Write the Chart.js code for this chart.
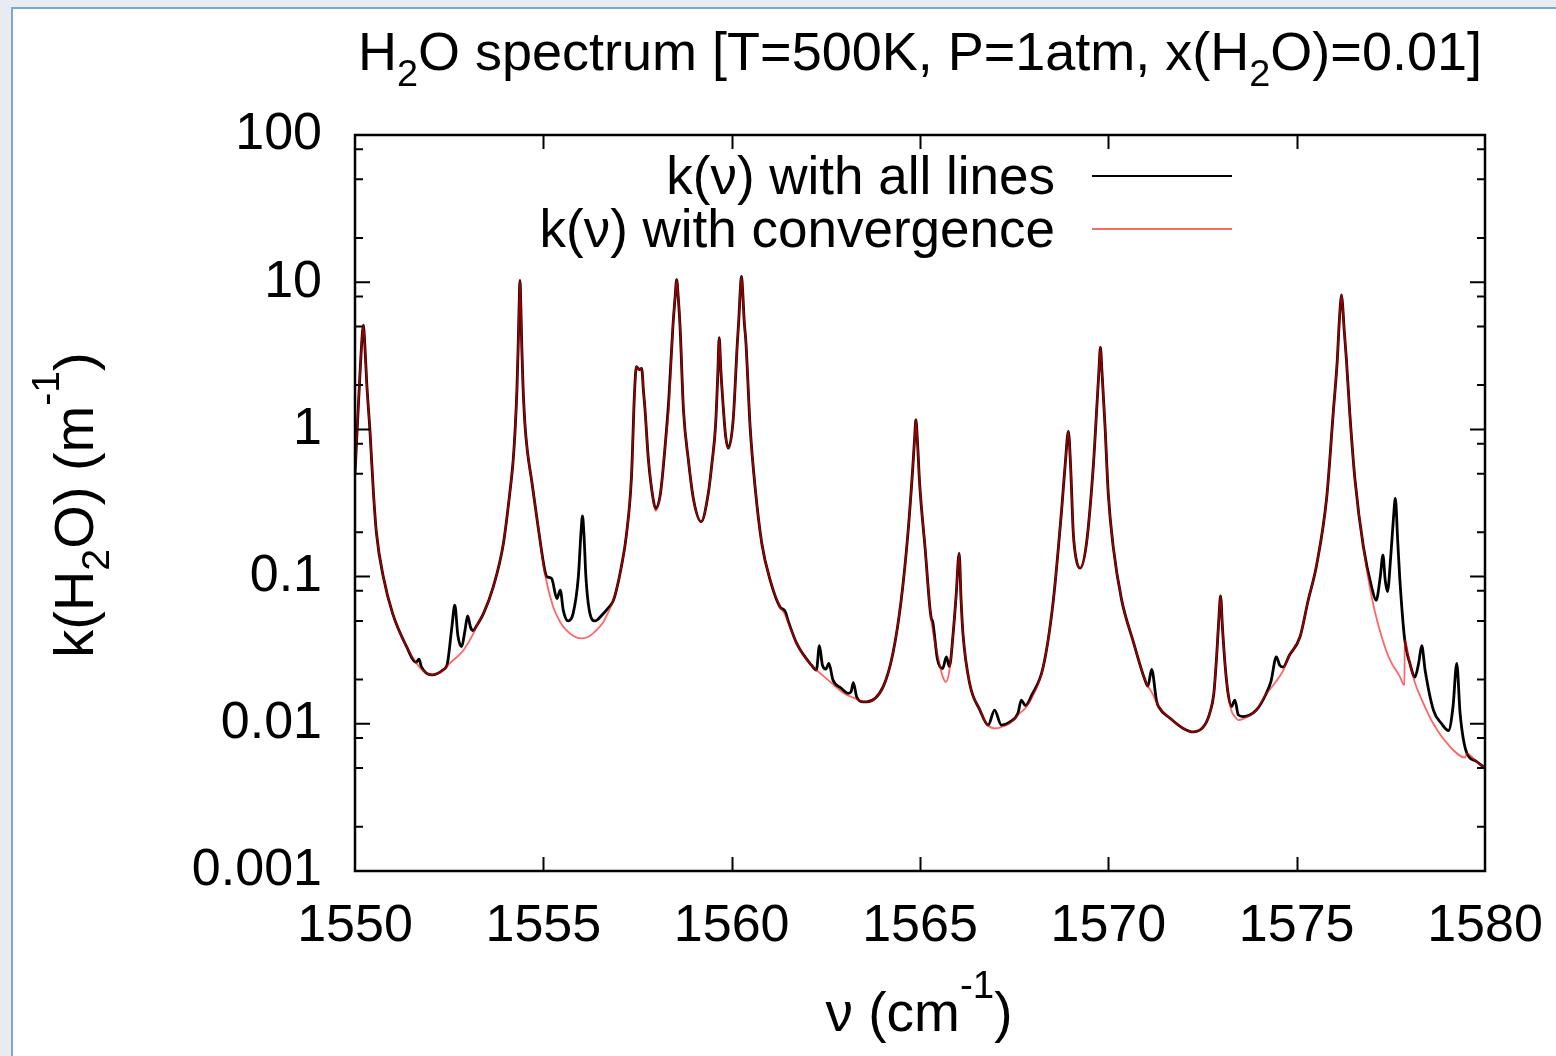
<!DOCTYPE html>
<html>
<head>
<meta charset="utf-8">
<title>H2O spectrum</title>
<script src="https://cdn.jsdelivr.net/npm/chart.js@4.4.1/dist/chart.umd.min.js"></script>
<style>
  html, body { margin: 0; padding: 0; }
  body { width: 1556px; height: 1056px; background: #e8ebef; position: relative; overflow: hidden; }
  .win { position: absolute; left: 11px; top: 7px; right: -10px; bottom: -10px; background: #fff;
         border-left: 2px solid #7aa6d9; border-top: 2px solid #7aa6d9; }
  #spec { position: absolute; left: 0; top: 0; }
</style>
</head>
<body>
<div class="win"></div>
<canvas id="spec" width="1556" height="1056"></canvas>
<script>
// spectrum: wavenumber (cm-1) and k (m-1)
const nuAll = [
  1550.00, 1550.08, 1550.14, 1550.19, 1550.22, 1550.26, 1550.31, 1550.40, 1550.49, 1550.57,
  1550.75, 1551.00, 1551.37, 1551.62, 1551.70, 1551.76, 1552.04, 1552.35, 1552.45, 1552.57,
  1552.65, 1552.73, 1552.83, 1552.92, 1552.99, 1553.07, 1553.14, 1553.22, 1553.41, 1553.67,
  1553.94, 1554.11, 1554.20, 1554.26, 1554.30, 1554.33, 1554.355, 1554.38, 1554.405, 1554.43,
  1554.46, 1554.51, 1554.58, 1554.69, 1554.87, 1555.04, 1555.09, 1555.22, 1555.36, 1555.45,
  1555.53, 1555.66, 1555.79, 1555.93, 1556.00, 1556.04, 1556.08, 1556.13, 1556.22, 1556.37,
  1556.59, 1556.72, 1556.85, 1556.94, 1557.08, 1557.20, 1557.34, 1557.42, 1557.47, 1557.54,
  1557.61, 1557.66, 1557.70, 1557.79, 1557.92, 1557.98, 1558.11, 1558.24, 1558.33, 1558.44,
  1558.50, 1558.54, 1558.58, 1558.63, 1558.72, 1558.85, 1558.99, 1559.19, 1559.38, 1559.48,
  1559.57, 1559.63, 1559.67, 1559.71, 1559.77, 1559.84, 1559.91, 1560.04, 1560.15, 1560.19,
  1560.22, 1560.26, 1560.30, 1560.33, 1560.38, 1560.49, 1560.62, 1560.80, 1561.02, 1561.28,
  1561.42, 1561.50, 1561.73, 1562.12, 1562.25, 1562.33, 1562.41, 1562.50, 1562.58, 1562.69,
  1562.90, 1563.09, 1563.17, 1563.23, 1563.32, 1563.50, 1563.58, 1564.02, 1564.28, 1564.50,
  1564.68, 1564.81, 1564.86, 1564.89, 1564.93, 1564.99, 1565.14, 1565.26, 1565.30, 1565.34,
  1565.46, 1565.60, 1565.70, 1565.78, 1565.88, 1565.96, 1566.04, 1566.09, 1566.14, 1566.32,
  1566.59, 1566.81, 1566.98, 1567.16, 1567.39, 1567.60, 1567.69, 1567.80, 1567.97, 1568.27,
  1568.54, 1568.76, 1568.86, 1568.94, 1569.00, 1569.07, 1569.15, 1569.25, 1569.42, 1569.60,
  1569.70, 1569.75, 1569.79, 1569.83, 1569.91, 1570.00, 1570.13, 1570.35, 1570.66, 1570.97,
  1571.05, 1571.15, 1571.28, 1571.34, 1571.64, 1571.99, 1572.26, 1572.56, 1572.70, 1572.80,
  1572.88, 1572.94, 1572.98, 1573.03, 1573.10, 1573.18, 1573.27, 1573.36, 1573.45, 1573.58,
  1573.93, 1574.19, 1574.32, 1574.46, 1574.55, 1574.64, 1574.80, 1575.09, 1575.30, 1575.53,
  1575.80, 1575.97, 1576.08, 1576.12, 1576.16, 1576.19, 1576.22, 1576.26, 1576.32, 1576.41,
  1576.55, 1576.77, 1576.99, 1577.11, 1577.22, 1577.29, 1577.35, 1577.41, 1577.50, 1577.57,
  1577.62, 1577.68, 1577.74, 1577.87, 1578.00, 1578.14, 1578.24, 1578.32, 1578.41, 1578.63,
  1578.85, 1579.03, 1579.15, 1579.25, 1579.34, 1579.52, 1579.75, 1580.00
];
const kAll = [
  0.50, 1.3, 2.6, 4.3, 5.1, 3.8, 2.1, 0.95, 0.37, 0.197,
  0.100, 0.056, 0.0334, 0.0262, 0.0275, 0.0245, 0.0215, 0.0234, 0.0255, 0.045,
  0.064, 0.040, 0.0334, 0.043, 0.054, 0.045, 0.043, 0.046, 0.056, 0.085,
  0.168, 0.37, 0.62, 1.1, 1.9, 3.5, 6.5, 10.3, 6.5, 3.5,
  2.0, 1.1, 0.70, 0.45, 0.21, 0.11, 0.100, 0.097, 0.071, 0.081,
  0.059, 0.050, 0.056, 0.100, 0.20, 0.258, 0.19, 0.100, 0.059, 0.050,
  0.056, 0.061, 0.068, 0.081, 0.12, 0.187, 0.477, 1.76, 2.67, 2.55,
  2.6, 1.8, 1.36, 0.62, 0.331, 0.29, 0.368, 0.806, 1.59, 5.0,
  8.0, 10.4, 8.0, 5.0, 1.36, 0.62, 0.331, 0.236, 0.368, 0.60,
  1.04, 2.3, 4.2, 2.6, 1.5, 0.9, 0.745, 1.16, 3.85, 5.6,
  8.0, 10.96, 8.0, 5.6, 3.85, 1.04, 0.41, 0.168, 0.095, 0.0624,
  0.058, 0.050, 0.0350, 0.025, 0.0232, 0.034, 0.025, 0.0235, 0.0257, 0.0198,
  0.0175, 0.0161, 0.0165, 0.019, 0.0152, 0.0141, 0.0141, 0.0178, 0.030, 0.0689,
  0.197, 0.558, 0.90, 1.16, 0.85, 0.43, 0.151, 0.0624, 0.052, 0.049,
  0.0277, 0.0237, 0.0285, 0.0245, 0.041, 0.075, 0.144, 0.070, 0.0411, 0.0187,
  0.0124, 0.0098, 0.0124, 0.0098, 0.0103, 0.0118, 0.0145, 0.0133, 0.0157, 0.0243,
  0.069, 0.284, 0.60, 0.97, 0.55, 0.197, 0.13, 0.114, 0.168, 0.558,
  1.5, 2.5, 3.6, 2.5, 1.08, 0.36, 0.159, 0.070, 0.0363, 0.0199,
  0.018, 0.0234, 0.0143, 0.013, 0.0109, 0.0093, 0.0088, 0.0098, 0.0120, 0.016,
  0.030, 0.055, 0.074, 0.045, 0.025, 0.016, 0.0131, 0.0145, 0.0115, 0.0112,
  0.0124, 0.016, 0.0195, 0.0285, 0.025, 0.0243, 0.029, 0.039, 0.068, 0.12,
  0.35, 1.29, 3.0, 4.8, 7.0, 8.2, 7.0, 4.8, 3.0, 1.29,
  0.45, 0.16, 0.085, 0.069, 0.10, 0.14, 0.095, 0.079, 0.14, 0.25,
  0.34, 0.18, 0.095, 0.037, 0.026, 0.0208, 0.026, 0.034, 0.0231, 0.0124,
  0.0100, 0.0090, 0.013, 0.0257, 0.0117, 0.0063, 0.0056, 0.0050
];

const nuConv = [
  1550.00, 1550.08, 1550.14, 1550.19, 1550.22, 1550.26, 1550.31, 1550.40, 1550.49, 1550.57,
  1550.75, 1551.00, 1551.37, 1551.73, 1552.04, 1552.35, 1552.52, 1552.88, 1553.14, 1553.22,
  1553.41, 1553.67, 1553.94, 1554.11, 1554.20, 1554.26, 1554.30, 1554.33, 1554.355, 1554.38,
  1554.405, 1554.43, 1554.46, 1554.51, 1554.58, 1554.69, 1554.87, 1555.04, 1555.26, 1555.45,
  1555.61, 1555.80, 1556.01, 1556.20, 1556.41, 1556.59, 1556.72, 1556.85, 1556.94, 1557.08,
  1557.20, 1557.34, 1557.42, 1557.47, 1557.54, 1557.61, 1557.66, 1557.70, 1557.79, 1557.92,
  1557.98, 1558.11, 1558.24, 1558.33, 1558.44, 1558.50, 1558.54, 1558.58, 1558.63, 1558.72,
  1558.85, 1558.99, 1559.19, 1559.38, 1559.48, 1559.57, 1559.63, 1559.67, 1559.71, 1559.77,
  1559.84, 1559.91, 1560.04, 1560.15, 1560.19, 1560.22, 1560.26, 1560.30, 1560.33, 1560.38,
  1560.49, 1560.62, 1560.80, 1561.02, 1561.28, 1561.42, 1561.50, 1561.73, 1562.12, 1562.40,
  1562.70, 1563.00, 1563.30, 1563.50, 1563.58, 1564.02, 1564.28, 1564.50, 1564.68, 1564.81,
  1564.86, 1564.89, 1564.93, 1564.99, 1565.14, 1565.26, 1565.34, 1565.46, 1565.60, 1565.69,
  1565.78, 1565.88, 1565.96, 1566.04, 1566.09, 1566.14, 1566.32, 1566.59, 1566.81, 1567.03,
  1567.16, 1567.39, 1567.65, 1567.80, 1567.97, 1568.27, 1568.54, 1568.76, 1568.86, 1568.94,
  1569.00, 1569.07, 1569.15, 1569.25, 1569.42, 1569.60, 1569.70, 1569.75, 1569.79, 1569.83,
  1569.91, 1570.00, 1570.13, 1570.35, 1570.66, 1570.97, 1571.05, 1571.15, 1571.28, 1571.34,
  1571.64, 1571.99, 1572.26, 1572.56, 1572.70, 1572.80, 1572.88, 1572.94, 1572.98, 1573.03,
  1573.10, 1573.18, 1573.27, 1573.36, 1573.45, 1573.58, 1573.93, 1574.19, 1574.32, 1574.46,
  1574.64, 1574.80, 1575.09, 1575.30, 1575.53, 1575.80, 1575.97, 1576.08, 1576.12, 1576.16,
  1576.19, 1576.22, 1576.26, 1576.32, 1576.41, 1576.55, 1576.77, 1576.99, 1577.18, 1577.44,
  1577.74, 1577.86, 1577.87, 1578.00, 1578.14, 1578.29, 1578.63, 1579.07, 1579.47, 1579.52,
  1579.75, 1580.00
];
const kConv = [
  0.50, 1.3, 2.6, 4.3, 5.1, 3.8, 2.1, 0.95, 0.37, 0.197,
  0.100, 0.056, 0.0334, 0.0240, 0.0215, 0.0232, 0.0258, 0.0316, 0.041, 0.046,
  0.056, 0.085, 0.168, 0.37, 0.62, 1.1, 1.9, 3.5, 6.5, 10.3,
  6.5, 3.5, 2.0, 1.1, 0.70, 0.45, 0.21, 0.105, 0.0624, 0.049,
  0.0433, 0.0395, 0.038, 0.039, 0.0433, 0.049, 0.057, 0.068, 0.081, 0.12,
  0.187, 0.477, 1.76, 2.67, 2.55, 2.6, 1.8, 1.36, 0.62, 0.331,
  0.28, 0.368, 0.806, 1.40, 5.0, 8.0, 10.4, 8.0, 5.0, 1.36,
  0.62, 0.331, 0.236, 0.368, 0.60, 1.04, 2.3, 4.2, 2.6, 1.5,
  0.9, 0.745, 1.16, 3.85, 5.6, 8.0, 10.96, 8.0, 5.6, 3.85,
  1.04, 0.41, 0.168, 0.095, 0.0624, 0.055, 0.049, 0.0350, 0.025, 0.0215,
  0.0185, 0.0160, 0.0148, 0.0141, 0.0141, 0.0178, 0.030, 0.0689, 0.197, 0.558,
  0.90, 1.16, 0.85, 0.43, 0.151, 0.0624, 0.043, 0.030, 0.021, 0.0193,
  0.023, 0.041, 0.075, 0.144, 0.070, 0.0411, 0.0187, 0.0124, 0.0097, 0.0093,
  0.0095, 0.0101, 0.0118, 0.0128, 0.0150, 0.0243, 0.069, 0.284, 0.60, 0.97,
  0.55, 0.197, 0.13, 0.114, 0.168, 0.558, 1.5, 2.5, 3.6, 2.5,
  1.08, 0.36, 0.159, 0.070, 0.0363, 0.0199, 0.018, 0.0164, 0.0140, 0.013,
  0.0109, 0.0093, 0.0088, 0.0098, 0.0120, 0.016, 0.030, 0.055, 0.074, 0.045,
  0.025, 0.016, 0.0122, 0.0112, 0.0106, 0.0108, 0.0124, 0.016, 0.0175, 0.0195,
  0.023, 0.029, 0.039, 0.068, 0.12, 0.35, 1.29, 3.0, 4.8, 7.0,
  8.2, 7.0, 4.8, 3.0, 1.29, 0.45, 0.16, 0.073, 0.0456, 0.0285,
  0.0209, 0.0183, 0.037, 0.026, 0.019, 0.0152, 0.0100, 0.0070, 0.0059, 0.0063,
  0.0056, 0.0050
];

// axis ticks
const xTicks = [1550, 1555, 1560, 1565, 1570, 1575, 1580];
const yTicks = [0.001, 0.01, 0.1, 1, 10, 100];
const yMinor = [2, 5, 8];

const FONT = "'Liberation Sans', Arial, Helvetica, sans-serif";
const SIZE = 52;

function toPoints(xs, ys) {
  return xs.map((v, i) => ({ x: v, y: ys[i] }));
}

// text with sub/superscript pieces, centred on x, baseline y
function drawRich(ctx, parts, x, y, size) {
  let total = 0;
  parts.forEach(p => {
    p.size = p[1] ? size * 0.7 : size;
    ctx.font = p.size + 'px ' + FONT;
    p.w = ctx.measureText(p[0]).width;
    total += p.w;
  });
  let cx = x - total / 2;
  ctx.textAlign = 'left';
  ctx.textBaseline = 'alphabetic';
  parts.forEach(p => {
    let dy = 0;
    if (p[1] === 'sub') dy = size * 0.29;
    if (p[1] === 'sup') dy = -size * 0.6;
    ctx.font = p.size + 'px ' + FONT;
    ctx.fillText(p[0], cx, y + dy);
    cx += p.w;
  });
}

const decor = {
  id: 'decor',
  afterDatasetsDraw(chart) {
    const { ctx, chartArea: { left, right, top, bottom }, scales: { x, y } } = chart;
    ctx.save();
    ctx.strokeStyle = '#000';
    ctx.lineWidth = 2;
    ctx.beginPath();
    // x ticks, bottom and top, pointing in
    xTicks.slice(1, -1).forEach(v => {
      const px = Math.round(x.getPixelForValue(v)) + 0.5;
      ctx.moveTo(px, bottom); ctx.lineTo(px, bottom - 14);
      ctx.moveTo(px, top); ctx.lineTo(px, top + 14);
    });
    // y major and minor ticks, left and right
    yTicks.forEach((d, i) => {
      const py = y.getPixelForValue(d);
      ctx.moveTo(left, py); ctx.lineTo(left + 15, py);
      ctx.moveTo(right, py); ctx.lineTo(right - 15, py);
      if (i < yTicks.length - 1) {
        yMinor.forEach(f => {
          const pm = y.getPixelForValue(d * f);
          ctx.moveTo(left, pm); ctx.lineTo(left + 8, pm);
          ctx.moveTo(right, pm); ctx.lineTo(right - 8, pm);
        });
      }
    });
    ctx.stroke();
    ctx.lineWidth = 2.5;
    ctx.strokeRect(left, top, right - left, bottom - top);

    // key, top right inside the frame
    ctx.fillStyle = '#000';
    ctx.font = '53px ' + FONT;
    ctx.textAlign = 'right';
    ctx.textBaseline = 'alphabetic';
    const rows = [chart.data.datasets[1], chart.data.datasets[0]];
    rows.forEach((ds, i) => {
      const base = 194 + i * 53;
      ctx.fillText(ds.label, 1055, base);
      ctx.beginPath();
      ctx.strokeStyle = ds.borderColor;
      ctx.lineWidth = 2;
      ctx.moveTo(1092, base - 18);
      ctx.lineTo(1232, base - 18);
      ctx.stroke();
    });

    // title and axis titles
    ctx.fillStyle = '#000';
    drawRich(ctx, [['H'], ['2', 'sub'], ['O spectrum [T=500K, P=1atm, x(H'], ['2', 'sub'], ['O)=0.01]']], 920, 70, 54);
    drawRich(ctx, [['\u03bd (cm'], ['-1', 'sup'], [')']], 919, 1031, 55);
    ctx.translate(93, 505);
    ctx.rotate(-Math.PI / 2);
    drawRich(ctx, [['k(H'], ['2', 'sub'], ['O) (m'], ['-1', 'sup'], [')']], 0, 0, 56);
    ctx.restore();
  }
};

const config = {
  type: 'line',
  data: {
    datasets: [
      {
        label: 'k(\u03bd) with convergence',
        data: toPoints(nuConv, kConv),
        borderColor: 'rgba(255, 0, 0, 0.6)',
        borderWidth: 1.8,
        order: 1
      },
      {
        label: 'k(\u03bd) with all lines',
        data: toPoints(nuAll, kAll),
        borderColor: '#000',
        borderWidth: 2.8,
        order: 2
      }
    ]
  },
  options: {
    responsive: false,
    animation: false,
    layout: { padding: { left: 0, right: 71, top: 135, bottom: 0 } },
    elements: {
      point: { radius: 0 },
      line: { cubicInterpolationMode: 'monotone', borderJoinStyle: 'round' }
    },
    plugins: {
      legend: { display: false },
      title: { display: false },
      tooltip: { enabled: false }
    },
    scales: {
      x: {
        type: 'linear',
        min: 1550,
        max: 1580,
        grid: { display: false, drawTicks: false },
        border: { display: false },
        ticks: {
          stepSize: 5,
          padding: 24,
          maxRotation: 0,
          autoSkip: false,
          color: '#000',
          font: { family: FONT, size: SIZE },
          callback: v => String(v)
        },
        afterBuildTicks: s => { s.ticks = xTicks.map(v => ({ value: v })); },
        afterFit: s => { s.height = 185; s.paddingLeft = 0; s.paddingRight = 0; }
      },
      y: {
        type: 'logarithmic',
        min: 0.001,
        max: 100,
        grid: { display: false, drawTicks: false },
        border: { display: false },
        ticks: {
          padding: 33,
          color: '#000',
          font: { family: FONT, size: SIZE },
          callback: v => String(v)
        },
        afterBuildTicks: s => { s.ticks = yTicks.map(v => ({ value: v })); },
        afterFit: s => { s.width = 355; s.paddingTop = 0; s.paddingBottom = 0; }
      }
    }
  },
  plugins: [decor]
};

const spectrumChart = new Chart(document.getElementById('spec'), config);
</script>
</body>
</html>
